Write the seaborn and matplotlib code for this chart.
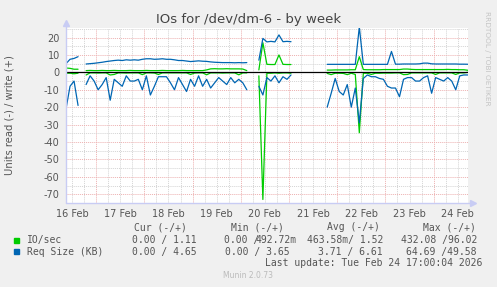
import numpy as np
import pandas as pd
import matplotlib
matplotlib.use("Agg")
import matplotlib.pyplot as plt
import matplotlib.dates as mdates
from matplotlib.patches import Rectangle
import seaborn as sns

nan = np.nan

# ---- data (2-hour samples, 16 Feb 09:00 .. 24 Feb 17:00) ----
times = pd.date_range("2026-02-16 09:00", "2026-02-24 17:00", freq="2h")

io_write = [2.5, 2.3, 1.8, 1.8, nan,
            1.0, 1.1, 1.0, 1.0, 1.1, 1.0, 1.0, 1.1, 1.0, 1.0, 1.0, 1.1, 1.0, 1.0, 1.0, 1.1,
            1.0, 1.0, 1.0, 1.1, 1.0, 1.0, 1.0, 1.0, 1.1, 1.0, 1.0, 1.0, 1.0, 1.0, 1.4,
            2.0, 2.1, 2.0, 2.0, 2.1, 2.0, 2.0, 2.0, 1.9, 1.0,
            nan, nan,
            1.4, 17.0, 4.6, 4.5, 4.5, 10.0, 4.6, 4.5, 4.5,
            nan, nan, nan, nan, nan, nan, nan, nan,
            1.3, 1.3, 1.4, 1.4, 1.4, 1.4, 1.5, 1.5, 9.0, 1.6, 1.5, 1.5, 1.5, 1.5, 1.6, 1.6,
            1.6, 1.6, 1.6, 1.9, 1.9, 1.7, 1.6, 1.6, 1.6, 1.6, 1.6, 1.6, 1.6, 1.6, 1.7, 1.6,
            1.6, 1.5, 1.5, 1.2]

io_read = [-0.5, -0.5, -0.8, -0.5, nan,
           -1.5, -0.3, -0.3, -0.4, -0.3, -0.3, -1.5, -1.2, -0.3, -0.3, -0.4, -0.3, -0.3, -0.3,
           -1.3, -0.3, -0.3, -0.4, -1.2, -0.3, -0.3, -0.3, -0.3, -0.3, -0.3, -0.3, -1.2, -0.4,
           -0.3, -0.3, -1.4, -0.3, -0.3, -0.3, -0.4, -0.3, -0.3, -0.3, -1.4, -0.3, -0.3,
           nan, nan,
           -2.0, -73.0, -0.5, -0.5, -0.3, -0.5, -0.3, -0.3, -0.5,
           nan, nan, nan, nan, nan, nan, nan, nan,
           -0.6, -1.3, -0.5, -0.5, -0.6, -1.3, -0.5, -1.2, -34.7, -0.5, -0.5, -1.2, -0.5,
           -0.5, -0.4, -0.4, -0.4, -0.3, -0.3, -1.3, -1.2, -0.3, -0.3, -0.3, -0.3, -0.3,
           -0.3, -1.2, -0.3, -0.3, -0.3, -0.3, -1.2, -0.3, -0.3, 0.0]

req_write = [5.0, 7.5, 8.0, 9.0, nan,
             4.8, 5.0, 5.2, 5.5, 5.8, 6.2, 6.5, 6.8, 7.0, 6.8, 7.2, 7.0, 7.2, 7.0, 7.5, 7.8,
             7.8, 7.5, 7.6, 7.8, 7.5, 7.5, 7.2, 6.8, 6.8, 6.5, 6.2, 6.4, 6.6, 6.4, 6.3, 6.0,
             5.8, 5.7, 5.6, 5.6, 5.6, 5.5, 5.6, 5.5, 5.6,
             nan, nan,
             7.0, 19.5, 17.5, 17.8, 17.5, 21.5, 17.6, 17.8, 17.6,
             nan, nan, nan, nan, nan, nan, nan, nan,
             4.6, 4.6, 4.6, 4.6, 4.6, 4.6, 4.6, 4.6, 26.0, 4.6, 4.6, 4.6, 4.6, 4.6, 4.6, 4.6,
             12.0, 4.7, 4.7, 4.8, 4.8, 4.8, 4.8, 4.9, 5.3, 5.3, 4.9, 4.8, 4.8, 4.8, 4.8, 4.8,
             4.8, 4.7, 4.7, 4.65]

req_read = [-21.0, -8.0, -5.0, -19.0, nan,
            -7, -2, -5, -10, -7, -3, -16, -4, -6, -8, -2, -5, -5, -4, -10, -2, -13, -8,
            -2.5, -2.5, -2.5, -6, -10, -3, -7, -11, -4, -8, -2, -8, -4, -9, -6, -3, -5, -7,
            -3, -6, -4, -6, -10,
            nan, nan,
            -8, -13, -3, -5, -2, -6, -2.5, -4, -1.5,
            nan, nan, nan, nan, nan, nan, nan, nan,
            -20, -12, -3.5, -11, -13, -7, -20, -9, -29, -3.5, -1.5, -2.5, -2.5, -3.5, -4,
            -8, -9, -9, -14, -4, -3, -3, -5, -5, -3, -2, -12, -3, -4, -5, -3, -5, -10, -2,
            -1.5, -1.5]

metrics = ["IO/sec", "Req Size (KB)"]
colors = {"IO/sec": "#00CC00", "Req Size (KB)": "#0066B3"}

# ---- build long-form table, splitting lines at gaps ----
rows = []
for metric, direction, vals in [("IO/sec", "w", io_write), ("IO/sec", "r", io_read),
                                ("Req Size (KB)", "w", req_write), ("Req Size (KB)", "r", req_read)]:
    v = np.asarray(vals, dtype=float)
    assert len(v) == len(times), (metric, direction, len(v))
    run = 0
    prev_ok = False
    for t, val in zip(times, v):
        ok = not np.isnan(val)
        if ok and not prev_ok:
            run += 1
        if ok:
            rows.append({"time": t, "value": val, "metric": metric,
                         "unit": f"{metric}-{direction}-{run}"})
        prev_ok = ok
df = pd.DataFrame(rows)

sns.set_theme(style="white")
plt.rcParams['font.family'] = ['DejaVu Sans']
plt.rcParams['axes.unicode_minus'] = False

W, H = 497, 287
fig = plt.figure(figsize=(W / 100, H / 100), dpi=100, facecolor='#F0F0F0')
L, R, T, B = 66, 468, 28.3, 203.3
ax = fig.add_axes([L / W, 1 - B / H, (R - L) / W, (B - T) / H])
ax.set_facecolor('white')

# grid
red = '#EDB0B0'
gray = '#D4D4D4'
for d in pd.date_range("2026-02-16 06:00", "2026-02-25 00:00", freq="6h"):
    ax.axvline(d, color=red if d.hour == 0 else gray, lw=0.7, ls=(0, (1, 1)), zorder=0.5)
for v in range(-75, 30, 5):
    ax.axhline(v, color=red if v % 10 == 0 else gray, lw=0.7, ls=(0, (1, 1)), zorder=0.5)

sns.lineplot(data=df, x="time", y="value", hue="metric", hue_order=metrics,
             palette=colors, units="unit", estimator=None, sort=False,
             linewidth=0.9, legend=False, ax=ax, zorder=2)

ax.axhline(0, color='black', lw=0.9, zorder=3)

ax.set_xlim(pd.Timestamp("2026-02-16 09:00"), pd.Timestamp("2026-02-24 17:06"))
ax.set_ylim(-75.2, 25.3)
ax.set_xticks(pd.date_range("2026-02-16 12:00", periods=9, freq="D"))
ax.xaxis.set_major_formatter(mdates.DateFormatter("%d %b"))
ax.set_yticks(range(-70, 30, 10))
ax.tick_params(length=0, labelsize=7, colors='#555555')
ax.tick_params(axis='y', pad=4.5)
ax.tick_params(axis='x', pad=4.0)
ax.set_xlabel("")
ax.set_ylabel("")
for s in ax.spines.values():
    s.set_visible(False)

axis_col = '#C8CCF4'
ax.plot([0, 0], [0, 1.025], transform=ax.transAxes, color=axis_col, lw=1, clip_on=False, zorder=4)
ax.plot([0, 1.01], [0, 0], transform=ax.transAxes, color=axis_col, lw=1, clip_on=False, zorder=4)
ax.plot([0], [1.03], marker='^', ms=4.5, color=axis_col, transform=ax.transAxes, clip_on=False)
ax.plot([1.013], [0], marker='>', ms=4.5, color=axis_col, transform=ax.transAxes, clip_on=False)

# texts
def px(x, y):
    return x / W, 1 - y / H

txt = '#555555'
fig.text(*px(249, 19), "IOs for /dev/dm-6 - by week", fontsize=9.5, color='#444444',
         ha='center', va='center')
fig.text(*px(10, 115), "Units read (-) / write (+)", rotation=90, fontsize=7.2,
         color=txt, ha='center', va='center')
fig.text(*px(487, 58), "RRDTOOL / TOBI OETIKER", rotation=270, fontsize=5.3,
         color='#C4C4C4', ha='center', va='center')

mono = dict(family='DejaVu Sans Mono', fontsize=7, color=txt, va='center')
for label, xr in [("Cur (-/+)", 187), ("Min (-/+)", 284), ("Avg (-/+)", 380), ("Max (-/+)", 476)]:
    fig.text(*px(xr, 227.3), label, ha='right', **mono)

y1, y2 = 240, 251.7
fig.text(*px(26.7, y1), "IO/sec", ha='left', **mono)
fig.text(*px(197, y1), "0.00 / 1.11", ha='right', **mono)
fig.text(*px(224, y1), "0.00 /", ha='left', **mono)
fig.text(*px(297, y1), "492.72m", ha='right', **mono)
fig.text(*px(383, y1), "463.58m/ 1.52", ha='right', **mono)
fig.text(*px(477, y1), "432.08 /96.02", ha='right', **mono)

fig.text(*px(26.7, y2), "Req Size (KB)", ha='left', **mono)
fig.text(*px(197, y2), "0.00 / 4.65", ha='right', **mono)
fig.text(*px(290, y2), "0.00 / 3.65", ha='right', **mono)
fig.text(*px(383, y2), "3.71 / 6.61", ha='right', **mono)
fig.text(*px(477, y2), "64.69 /49.58", ha='right', **mono)

fig.text(*px(482, 263.3), "Last update: Tue Feb 24 17:00:04 2026", ha='right', **mono)
fig.text(*px(248, 276), "Munin 2.0.73", fontsize=5.5, color='#BBBBBB', ha='center', va='center')

for yy, c in [(237.7, colors["IO/sec"]), (249.2, colors["Req Size (KB)"])]:
    fig.patches.append(Rectangle((14 / W, 1 - (yy + 5) / H), 5.3 / W, 5 / H,
                                 transform=fig.transFigure, color=c, figure=fig))

fig.savefig("out.png", dpi=100, facecolor=fig.get_facecolor())
